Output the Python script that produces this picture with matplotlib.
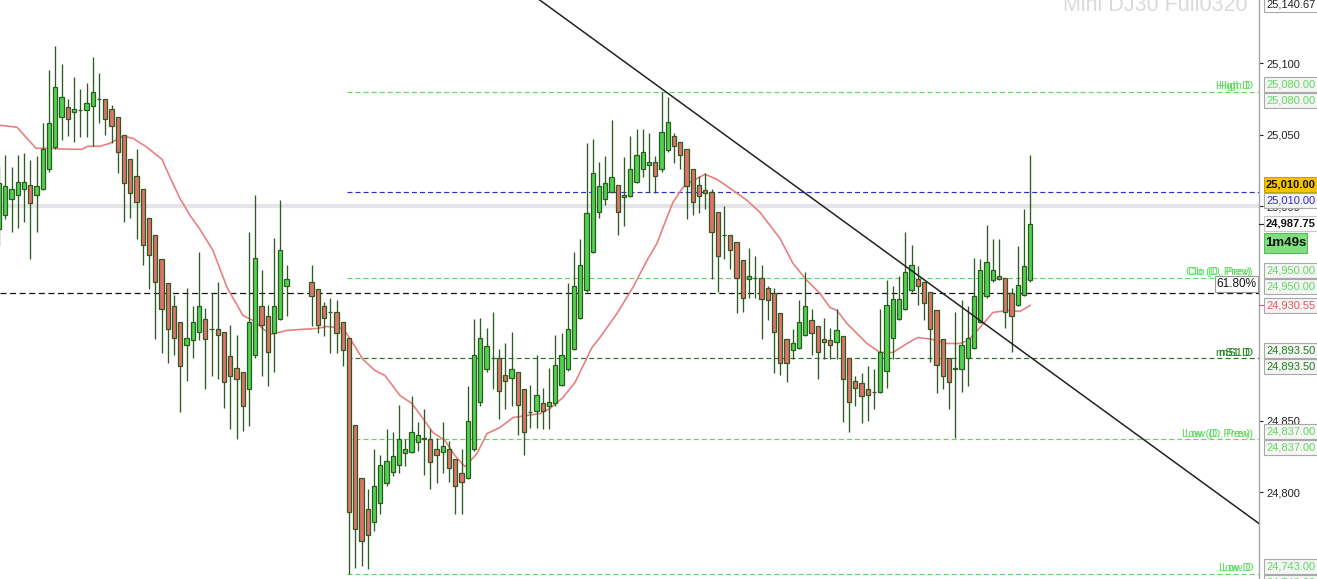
import numpy as np
import matplotlib
matplotlib.use('Agg')
import matplotlib.pyplot as plt
from matplotlib.patches import Rectangle
from matplotlib.lines import Line2D
from matplotlib.ticker import FuncFormatter

plt.rcParams['font.family'] = ['Liberation Sans', 'DejaVu Sans']
plt.rcParams['lines.scale_dashes'] = False

nan = np.nan

# one-minute-ish bars, NaN = empty slot (session gap)
opens = [24984, 24994, 25005, 25008, 25012, 25015, 25008, 25012, 25026, 25041,
         25062, 25069, 25066, 25067, 25067, 25070, 25075, 25075, 25068, 25062,
         25050, 25033, 25021, 25012, 24992, 24980, 24963, 24946, 24930, 24919,
         24903, 24906, 24912, 24921, 24914, 24914, 24912, 24895, 24887, 24884,
         24872, 24896, 24930, 24923, 24911, 24921, 24944, nan, nan, nan,
         24947, 24942, 24930, 24926, 24926, 24919, 24908, 24847, 24810, 24788,
         24779, 24792, 24806, 24814, 24819, 24827, 24828, 24835, 24838, 24837,
         24830, 24828, 24830, 24823, 24813, 24810, 24830, 24863, 24886, 24894,
         24894, 24882, 24880, 24884, 24872, 24856, 24857, 24862, 24860, 24862,
         24875, 24886, 24900, 24922, 24941, 24968, 24996, 25005, 25010, 25015,
         25006, 25007, 25017, 25026, 25029, 25031, 25026, 25039, 25049, 25045,
         25040, 25026, 25015, 25011, 25010, 24996, 24980, 24980, 24975, 24962,
         24949, 24950, 24950, 24943, 24939, 24925, 24907, 24899, 24901, 24910,
         24920, 24916, 24907, 24906, 24905, 24909, 24894, 24878, 24876, 24872,
         24870, 24870, 24885, 24908, 24921, 24928, 24941, 24949, 24947, 24940,
         24927, 24907, 24894, 24886, 24886, 24894, 24901, 24919, 24937, 24948,
         24951, 24950, 24939, 24931, 24938, 24948]
highs = [25028, 25036, 25027, 25036, 25037, 25032, 25035, 25058, 25095, 25112,
         25099, 25075, 25090, 25082, 25086, 25104, 25093, 25075, 25071, 25062,
         25050, 25033, 25040, 25012, 24992, 24980, 24963, 24946, 24938, 24919,
         24943, 24930, 24968, 24929, 24939, 24947, 24912, 24917, 24910, 24884,
         24982, 25008, 24955, 24931, 24978, 25004, 24959, nan, nan, nan,
         24959, 24942, 24933, 24936, 24934, 24919, 24908, 24847, 24810, 24802,
         24830, 24826, 24844, 24842, 24861, 24837, 24867, 24849, 24858, 24844,
         24838, 24849, 24836, 24823, 24830, 24874, 24921, 24922, 24915, 24926,
         24900, 24904, 24912, 24884, 24872, 24875, 24896, 24873, 24887, 24910,
         24911, 24946, 24968, 24977, 25044, 25047, 25031, 25035, 25060, 25015,
         25034, 25049, 25054, 25054, 25051, 25035, 25080, 25076, 25051, 25045,
         25040, 25026, 25021, 25023, 25012, 24996, 25000, 24980, 24975, 24962,
         24971, 24965, 24959, 24944, 24943, 24925, 24907, 24914, 24934, 24954,
         24928, 24916, 24922, 24915, 24928, 24909, 24894, 24881, 24883, 24888,
         24886, 24928, 24948, 24944, 24951, 24982, 24973, 24958, 24947, 24940,
         24927, 24907, 24894, 24926, 24934, 24930, 24964, 24963, 24987, 24977,
         24977, 24950, 24943, 24972, 24998, 25036]
lows = [24972, 24991, 24982, 24985, 24989, 24963, 24982, 25011, 25024, 25040,
        25046, 25049, 25045, 25048, 25048, 25042, 25058, 25050, 25044, 25023,
        24989, 24992, 24977, 24959, 24942, 24907, 24897, 24890, 24896, 24856,
        24878, 24894, 24906, 24872, 24881, 24879, 24859, 24844, 24837, 24843,
        24846, 24894, 24881, 24874, 24884, 24920, 24923, nan, nan, nan,
        24916, 24911, 24909, 24897, 24897, 24888, 24743, 24747, 24748, 24746,
        24773, 24785, 24804, 24811, 24813, 24818, 24827, 24829, 24812, 24802,
        24806, 24813, 24807, 24785, 24785, 24809, 24829, 24860, 24884, 24872,
        24851, 24858, 24860, 24840, 24826, 24845, 24845, 24844, 24844, 24860,
        24874, 24885, 24899, 24921, 24940, 24967, 24992, 25001, 25009, 24980,
        24986, 25006, 25016, 25020, 25010, 25009, 25024, 25038, 25030, 25026,
        24991, 24994, 24995, 24998, 24949, 24940, 24963, 24956, 24925, 24926,
        24936, 24936, 24907, 24920, 24883, 24882, 24877, 24893, 24900, 24909,
        24896, 24879, 24893, 24893, 24893, 24849, 24842, 24860, 24848, 24850,
        24858, 24869, 24873, 24893, 24920, 24927, 24940, 24931, 24920, 24891,
        24869, 24872, 24858, 24838, 24870, 24874, 24900, 24918, 24936, 24947,
        24948, 24915, 24898, 24930, 24937, 24947]
closes = [25016, 25014, 25012, 25017, 25017, 25002, 25014, 25040, 25058, 25083,
          25076, 25061, 25068, 25067, 25072, 25080, 25075, 25061, 25056, 25038,
          25016, 25009, 25003, 24973, 24966, 24947, 24928, 24914, 24908, 24888,
          24908, 24919, 24930, 24907, 24914, 24910, 24877, 24881, 24879, 24860,
          24919, 24964, 24917, 24898, 24930, 24969, 24949, nan, nan, nan,
          24937, 24917, 24922, 24926, 24911, 24899, 24786, 24774, 24766, 24770,
          24804, 24819, 24822, 24825, 24837, 24830, 24842, 24840, 24837, 24821,
          24826, 24832, 24817, 24804, 24807, 24850, 24896, 24908, 24902, 24894,
          24871, 24878, 24886, 24861, 24842, 24856, 24868, 24857, 24863, 24889,
          24896, 24914, 24944, 24959, 24995, 25023, 25014, 25016, 25020, 24996,
          25008, 25026, 25036, 25038, 25031, 25021, 25052, 25059, 25042, 25036,
          25014, 25003, 25007, 25009, 24982, 24965, 24980, 24969, 24950, 24936,
          24951, 24950, 24935, 24934, 24912, 24890, 24890, 24904, 24919, 24930,
          24911, 24898, 24905, 24903, 24913, 24879, 24863, 24873, 24867, 24868,
          24870, 24898, 24931, 24935, 24935, 24954, 24959, 24944, 24932, 24914,
          24889, 24881, 24877, 24887, 24903, 24908, 24937, 24955, 24961, 24955,
          24949, 24926, 24923, 24945, 24958, 24987.75]

# moving average (bar index, price)
sma_x = [0.15, 2.87, 5.91, 8.15, 11.03, 13.27, 14.23, 16.15, 17.75, 19.83,
         21.43, 23.67, 26.07, 27.35, 28.95, 30.55, 32.15, 34.23, 36.47, 39.03,
         40.63, 43.35, 46.07, 48.15, 50.87, 52.47, 55.03, 56.15, 58.23, 60.15,
         61.75, 64.15, 66.07, 67.83, 69.43, 71.35, 72.95, 74.55, 76.47, 78.07,
         80.15, 82.23, 86.55, 88.15, 90.23, 92.15, 94.87, 96.15, 98.87, 101.43,
         103.67, 105.27, 106.87, 107.83, 109.43, 110.55, 112.95, 114.87, 117.43, 119.67,
         121.75, 123.35, 124.95, 127.03, 129.27, 131.35, 132.95, 134.07, 135.67, 137.27,
         138.87, 140.95, 143.03, 145.27, 147.03, 149.43, 151.67, 153.75, 155.03, 156.95,
         159.03, 161.27, 163.35, 165.0]
sma_y = [25056.5, 25055.1, 25040.4, 25040.4, 25039.7, 25039.7, 25041.8, 25041.8, 25043.9, 25048.8,
         25047.4, 25041.1, 25032.7, 25020.1, 25005.4, 24993.5, 24983.7, 24969.0, 24943.1, 24923.5,
         24920.0, 24910.2, 24913.0, 24913.7, 24914.4, 24915.8, 24914.4, 24907.4, 24892.7, 24885.0,
         24881.5, 24867.5, 24861.9, 24851.4, 24841.6, 24836.0, 24825.5, 24817.8, 24826.9, 24840.9,
         24845.1, 24852.1, 24854.9, 24858.4, 24866.1, 24876.6, 24901.1, 24908.1, 24924.9, 24943.1,
         24962.0, 24973.9, 24992.1, 25002.6, 25013.1, 25016.6, 25022.2, 25018.7, 25011.0, 25004.0,
         24995.6, 24986.5, 24977.4, 24959.9, 24948.0, 24938.9, 24929.1, 24927.0, 24917.9, 24910.9,
         24903.9, 24897.6, 24897.6, 24903.9, 24908.1, 24906.7, 24903.9, 24903.9, 24906.0, 24915.1,
         24925.6, 24927.0, 24926.3, 24930.55]

# hand-drawn trend line (two anchor points)
trend_x = [80.0, 201.6]
trend_y = [25164.8, 24778.0]

# levels
high_d = 25080.0
blue_level = 25010.0
round_level = 25000.0
open_prev = 24950.0
fib_618 = 24939.5
s1_d = 24893.5
low_prev = 24837.0
low_d = 24743.0
last_price = 24987.75
sma_last = 24930.55
top_price = 25140.67
day_start = 55.7

y_lo, y_hi = 24739.2, 25144.1
x_lo, x_hi = 0.152, 201.6

GREEN = '#4fd34f'
RED = '#e1716b'
EDGE = '#2c5c1f'
LT_GREEN = '#5fd85f'
DK_GREEN = '#1d7d1d'

W, H = 1317, 579
fig = plt.figure(figsize=(W / 100, H / 100), dpi=100)
ax = fig.add_axes([0, 0, 1259 / W, 1])
ax.set_xlim(x_lo, x_hi)
ax.set_ylim(y_lo, y_hi)

o = np.array(opens, float)
h = np.array(highs, float)
l = np.array(lows, float)
c = np.array(closes, float)
x = np.arange(len(o))
ok = ~np.isnan(o)
body_col = np.where(c > o, GREEN, np.where(c < o, RED, EDGE))

ax.vlines(x[ok], l[ok], h[ok], color=EDGE, lw=0.95, zorder=3)
ax.bar(x[ok], np.abs(c - o)[ok], bottom=np.minimum(o, c)[ok], width=0.7,
       color=body_col[ok], edgecolor=EDGE, linewidth=0.9, zorder=4)

ax.plot(sma_x, sma_y, color='#e98080', lw=1.2, zorder=2.5)
ax.plot(trend_x, trend_y, color='#222222', lw=1.1, zorder=5)

# horizontal levels
ax.axhline(round_level, color='#e4e4e9', lw=3.0, zorder=1)
ax.axhline(fib_618, color='#111111', lw=0.9, dashes=(4.3, 2.6), zorder=1.5)
xs = (day_start - x_lo) / (x_hi - x_lo)
for lvl, col in [(high_d, LT_GREEN), (blue_level, '#2b2bd0'), (open_prev, LT_GREEN),
                 (s1_d, DK_GREEN), (low_prev, LT_GREEN), (low_d, LT_GREEN)]:
    ax.axhline(lvl, xmin=xs, xmax=1, color=col, lw=0.85, dashes=(3.6, 2.2), zorder=1.5)

# axis look
for s in ['left', 'top', 'bottom']:
    ax.spines[s].set_visible(False)
ax.spines['right'].set_color('#a3a7ab')
ax.spines['right'].set_linewidth(1.0)
ax.set_xticks([])
ax.yaxis.tick_right()
ax.set_yticks([24800, 24850, 25000, 25050, 25100])
ax.yaxis.set_major_formatter(FuncFormatter(lambda v, p: f'{v:,.0f}'))
ax.tick_params(axis='y', direction='out', length=3, width=0.8, colors='#222222',
               labelsize=8, pad=2)


def fy(p):
    return (p - y_lo) / (y_hi - y_lo)


BH = 15 / H
BX = 1263.5 / W


def tag(price, text, color, pos='center', fc='#f5f5f5', ec='#a9a9a9', bold=False):
    if pos == 'above':
        y0 = fy(price)
    elif pos == 'below':
        y0 = fy(price) - BH - 1 / H
    else:
        y0 = fy(price) - BH / 2
    fig.add_artist(Rectangle((BX, y0), 1 - BX + 0.01, BH, transform=fig.transFigure,
                             fc=fc, ec=ec, lw=0.8, zorder=5))
    fig.text(1266 / W, y0 + BH / 2, text, color=color, fontsize=8, va='center', ha='left',
             fontweight='bold' if bold else 'normal', zorder=6)


def spine_tick(price, color):
    fig.add_artist(Line2D([1259 / W, 1263 / W], [fy(price), fy(price)],
                          transform=fig.transFigure, color=color, lw=0.8, zorder=6))


def left_label(price, text, color, dx=2.5):
    for off in (0, dx):
        fig.text((1253 - off) / W, fy(price) + 2.5 / H, text, color=color, fontsize=8,
                 ha='right', va='baseline', zorder=6)


tag(top_price, f'{top_price:,.2f}', '#222222', 'center', fc='white')
tag(high_d, f'{high_d:,.2f}', LT_GREEN, 'above')
tag(high_d, f'{high_d:,.2f}', LT_GREEN, 'below')
tag(blue_level, f'{blue_level:,.2f}', '#111111', 'above', fc='#f6c500', ec='#c9a000', bold=True)
tag(blue_level, f'{blue_level:,.2f}', '#2b2bd0', 'below')
tag(last_price, f'{last_price:,.2f}', '#111111', 'center', fc='white', ec='#c8c8c8', bold=True)
spine_tick(last_price, '#222222')
tag(open_prev, f'{open_prev:,.2f}', LT_GREEN, 'above')
tag(open_prev, f'{open_prev:,.2f}', LT_GREEN, 'below')
tag(sma_last, f'{sma_last:,.2f}', '#e05a5a', 'center')
spine_tick(sma_last, '#e05a5a')
tag(s1_d, f'{s1_d:,.2f}', DK_GREEN, 'above')
tag(s1_d, f'{s1_d:,.2f}', DK_GREEN, 'below')
tag(low_prev, f'{low_prev:,.2f}', LT_GREEN, 'above')
tag(low_prev, f'{low_prev:,.2f}', LT_GREEN, 'below')
tag(low_d, f'{low_d:,.2f}', LT_GREEN, 'above')
tag(low_d, f'{low_d:,.2f}', LT_GREEN, 'below')

# bar timer box
y_timer = fy(last_price) - BH / 2 - 22 / H
fig.add_artist(Rectangle((1264 / W, y_timer), 43 / W, 20 / H, transform=fig.transFigure,
                         fc='#80e080', ec='#5cb85c', lw=0.8, zorder=5))
fig.text(1285.5 / W, y_timer + 10 / H, '1m49s', fontsize=9.5, fontweight='bold',
         ha='center', va='center', color='#111111', zorder=6)

# fib label box
fig.add_artist(Rectangle((1215 / W, fy(fib_618) + 1 / H), 43 / W, 16 / H,
                         transform=fig.transFigure, fc='white', ec='#9a9a9a', lw=0.8, zorder=5))
fig.text(1236.5 / W, fy(fib_618) + 9 / H, '61.80%', fontsize=8.5, ha='center', va='center',
         color='#111111', zorder=6)

left_label(high_d, 'High D', LT_GREEN)
left_label(open_prev, 'Clo (D, Prev)', LT_GREEN)
left_label(s1_d, 'mS1 D', DK_GREEN)
left_label(low_prev, 'Low (D, Prev)', LT_GREEN)
left_label(low_d, 'Low D', LT_GREEN)

# watermark, partly cut by the top edge
fig.text(1248 / W, 1 - 11 / H, 'Mini DJ30 Full0320', fontsize=15.5, color='#dadada',
         ha='right', va='baseline', zorder=0.5)

fig.savefig('out.png', dpi=100)
